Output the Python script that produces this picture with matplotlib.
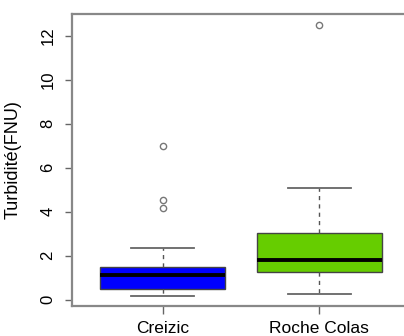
import matplotlib
matplotlib.use("Agg")
import matplotlib.pyplot as plt

plt.rcParams['font.family'] = ['Liberation Sans', 'DejaVu Sans']

# Station names and five-number summaries of turbidity (FNU)
sites = ["Creizic", "Roche Colas"]
whisker_low = [0.18, 0.27]
q1 = [0.49, 1.27]
median = [1.11, 1.81]
q3 = [1.47, 3.04]
whisker_high = [2.37, 5.10]
outliers = [[6.98, 4.52, 4.19], [12.49]]
box_colors = ["#0000FF", "#66CD00"]

y_ticks = [0, 2, 4, 6, 8, 10, 12]
y_label = "Turbidité(FNU)"

fig = plt.figure(figsize=(4.04, 3.36), dpi=100)
ax = fig.add_axes([72 / 404, 1 - 306 / 336, (410 - 72) / 404, (306 - 14) / 336])

stats = []
for i, name in enumerate(sites):
    stats.append(dict(label=name, whislo=whisker_low[i], q1=q1[i], med=median[i],
                      q3=q3[i], whishi=whisker_high[i], fliers=outliers[i]))

bp = ax.bxp(stats, positions=[1, 2], widths=0.8, patch_artist=True,
            showfliers=True,
            boxprops=dict(edgecolor="#444444", linewidth=1.0),
            medianprops=dict(color="black", linewidth=2.8, solid_capstyle="butt"),
            whiskerprops=dict(color="#555555", linestyle=(0, (3, 3)), linewidth=1.0),
            capprops=dict(color="#666666", linewidth=1.3),
            capwidths=0.4,
            flierprops=dict(marker="o", markerfacecolor="none",
                            markeredgecolor="#777777", markersize=4.5,
                            markeredgewidth=1.0))
for patch, c in zip(bp["boxes"], box_colors):
    patch.set_facecolor(c)

ax.set_xlim(0.42, 2.58)
ax.set_ylim(-0.29, 13.0)
ax.set_yticks(y_ticks)
ax.set_yticklabels([str(v) for v in y_ticks], rotation=90, va="center", fontsize=12)
ax.set_xticks([1, 2])
ax.set_xticklabels(sites, fontsize=12.5)
ax.tick_params(axis="y", length=5, width=1, color="#666666", pad=7)
ax.tick_params(axis="x", length=6, width=1, color="#666666", pad=4.5)
ax.set_ylabel(y_label, fontsize=13)
ax.yaxis.set_label_coords(-(72 - 22) / 338, 0.5)

for s in ax.spines.values():
    s.set_color("#888888")
    s.set_linewidth(1.6)

fig.savefig("out.png", dpi=100)
